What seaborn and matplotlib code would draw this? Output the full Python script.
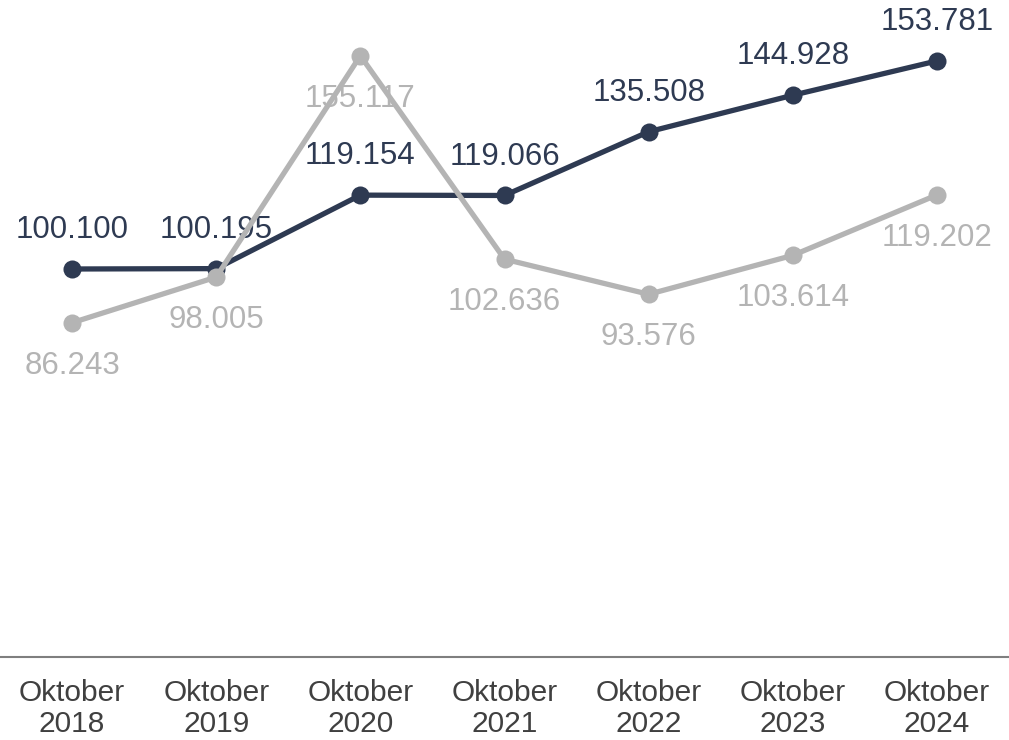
import matplotlib

matplotlib.use("Agg", force=True)

import matplotlib.pyplot as plt
import seaborn as sns
import pandas as pd

# Chart data
years = ["2018", "2019", "2020", "2021", "2022", "2023", "2024"]
tick_labels = [f"Oktober\n{y}" for y in years]
dark_values = [100.100, 100.195, 119.154, 119.066, 135.508, 144.928, 153.781]
gray_values = [86.243, 98.005, 155.117, 102.636, 93.576, 103.614, 119.202]

DARK = "#2E3A52"
GRAY = "#B4B4B4"

sns.set_theme(style="white")
plt.rcParams["font.family"] = ["Liberation Sans", "DejaVu Sans"]

df = pd.DataFrame({
    "pos": list(range(len(years))) * 2,
    "value": dark_values + gray_values,
    "series": ["dark"] * len(years) + ["gray"] * len(years),
})

fig = plt.figure(figsize=(10.09, 7.40), dpi=100)
ax = fig.add_axes([0, 0.1122, 1, 0.8878])

# Dark line first, gray line drawn over it (as in the reference)
sns.lineplot(data=df, x="pos", y="value", hue="series", hue_order=["dark", "gray"],
             palette={"dark": DARK, "gray": GRAY}, marker="o", markersize=13,
             markeredgewidth=0, linewidth=3.8, legend=False, ax=ax)
for i, line in enumerate(ax.lines):
    line.set_zorder(3 + i)

# Value labels sit under the lines: dark above, gray below
for i, v in enumerate(dark_values):
    ax.annotate(f"{v:.3f}", (i, v), xytext=(0, 28), textcoords="offset points",
                ha="center", va="center", fontsize=22.5, color=DARK, zorder=1)
for i, v in enumerate(gray_values):
    ax.annotate(f"{v:.3f}", (i, v), xytext=(0, -31), textcoords="offset points",
                ha="center", va="center", fontsize=22.5, color=GRAY, zorder=1)

ax.set_xlim(-0.5, len(years) - 0.5)
ax.set_ylim(0, 169.5)
ax.set_xticks(range(len(years)))
ax.set_xticklabels(tick_labels, fontsize=21.5, color="#404040", linespacing=1.12)
ax.tick_params(axis="x", length=0, pad=16)
ax.set_yticks([])
ax.set_xlabel("")
ax.set_ylabel("")

for side in ["top", "left", "right"]:
    ax.spines[side].set_visible(False)
ax.spines["bottom"].set_color("#7F7F7F")
ax.spines["bottom"].set_linewidth(1.5)

fig.savefig("out.png", dpi=100)
